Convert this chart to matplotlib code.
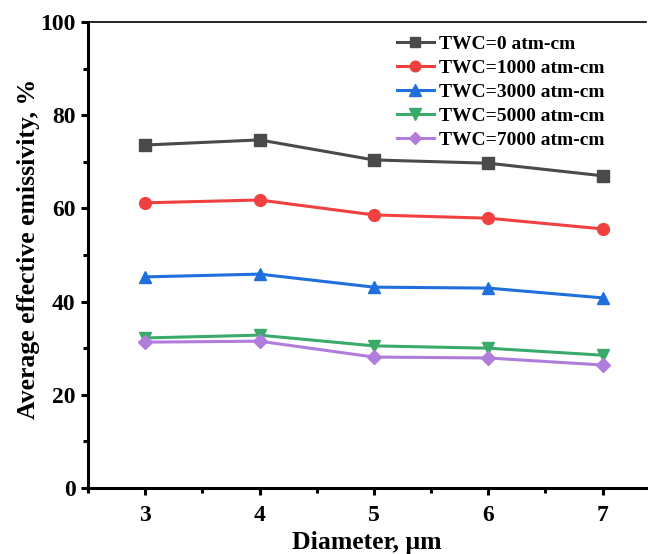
import matplotlib
matplotlib.use("Agg")
import matplotlib.pyplot as plt
from matplotlib.ticker import MultipleLocator

diameter = [3, 4, 5, 6, 7]
twc0 = [73.6, 74.7, 70.4, 69.7, 67.0]
twc1000 = [61.2, 61.8, 58.6, 57.9, 55.6]
twc3000 = [45.3, 45.9, 43.1, 42.9, 40.8]
twc5000 = [32.2, 32.8, 30.5, 30.0, 28.5]
twc7000 = [31.3, 31.5, 28.1, 27.9, 26.4]
labels = ["TWC=0 atm-cm", "TWC=1000 atm-cm", "TWC=3000 atm-cm",
          "TWC=5000 atm-cm", "TWC=7000 atm-cm"]

plt.rcParams['font.family'] = ['Liberation Serif', 'DejaVu Serif']
plt.rcParams['font.weight'] = 'bold'

fig = plt.figure(figsize=(6.48, 5.54), dpi=100)
ax = fig.add_axes([88/648, 1-488/554, (646-88)/648, (488-22)/554])

series = [twc0, twc1000, twc3000, twc5000, twc7000]
colors = ['#4a4a4a', '#f04040', '#1f6fdc', '#3aaa6a', '#b07ddc']
markers = ['s', 'o', '^', 'v', 'D']
sizes = [8, 8.5, 9, 9, 7]
for s, c, m, ms, lab in zip(series, colors, markers, sizes, labels):
    ax.plot(diameter, s, color=c, marker=m, markersize=ms, linewidth=2.2, label=lab)

ax.set_xlim(2.5, 7.38)
ax.set_ylim(0, 100)
ax.xaxis.set_major_locator(MultipleLocator(1))
ax.xaxis.set_minor_locator(MultipleLocator(0.5))
ax.yaxis.set_major_locator(MultipleLocator(20))
ax.yaxis.set_minor_locator(MultipleLocator(10))

ax.spines['right'].set_visible(False)
ax.spines['top'].set_linewidth(1.2)
ax.spines['left'].set_linewidth(2.2)
ax.spines['bottom'].set_linewidth(2.2)
ax.tick_params(which='major', direction='out', length=5, width=2.2, labelsize=17, pad=4)
ax.tick_params(axis='x', which='major', pad=7.5)
ax.tick_params(which='minor', direction='out', length=3.5, width=2.2)
for t in ax.get_xticklabels() + ax.get_yticklabels():
    t.set_fontweight('bold')

ax.set_xlabel("Diameter, μm", fontsize=18.5, fontweight='bold', labelpad=3.5)
ax.set_ylabel("Average effective emissivity, %", fontsize=18.5, fontweight='bold')
ax.yaxis.set_label_coords(-0.086, 0.5 + 6/466)

leg = ax.legend(loc='upper left', bbox_to_anchor=(397/648, 1-35/554),
                bbox_transform=fig.transFigure, frameon=False,
                borderpad=0, borderaxespad=0, markerscale=0.9,
                prop={'family': 'Liberation Serif', 'weight': 'bold', 'size': 14},
                handlelength=1.9, handletextpad=0.25, labelspacing=0.33)

fig.savefig("out.png", dpi=100)
